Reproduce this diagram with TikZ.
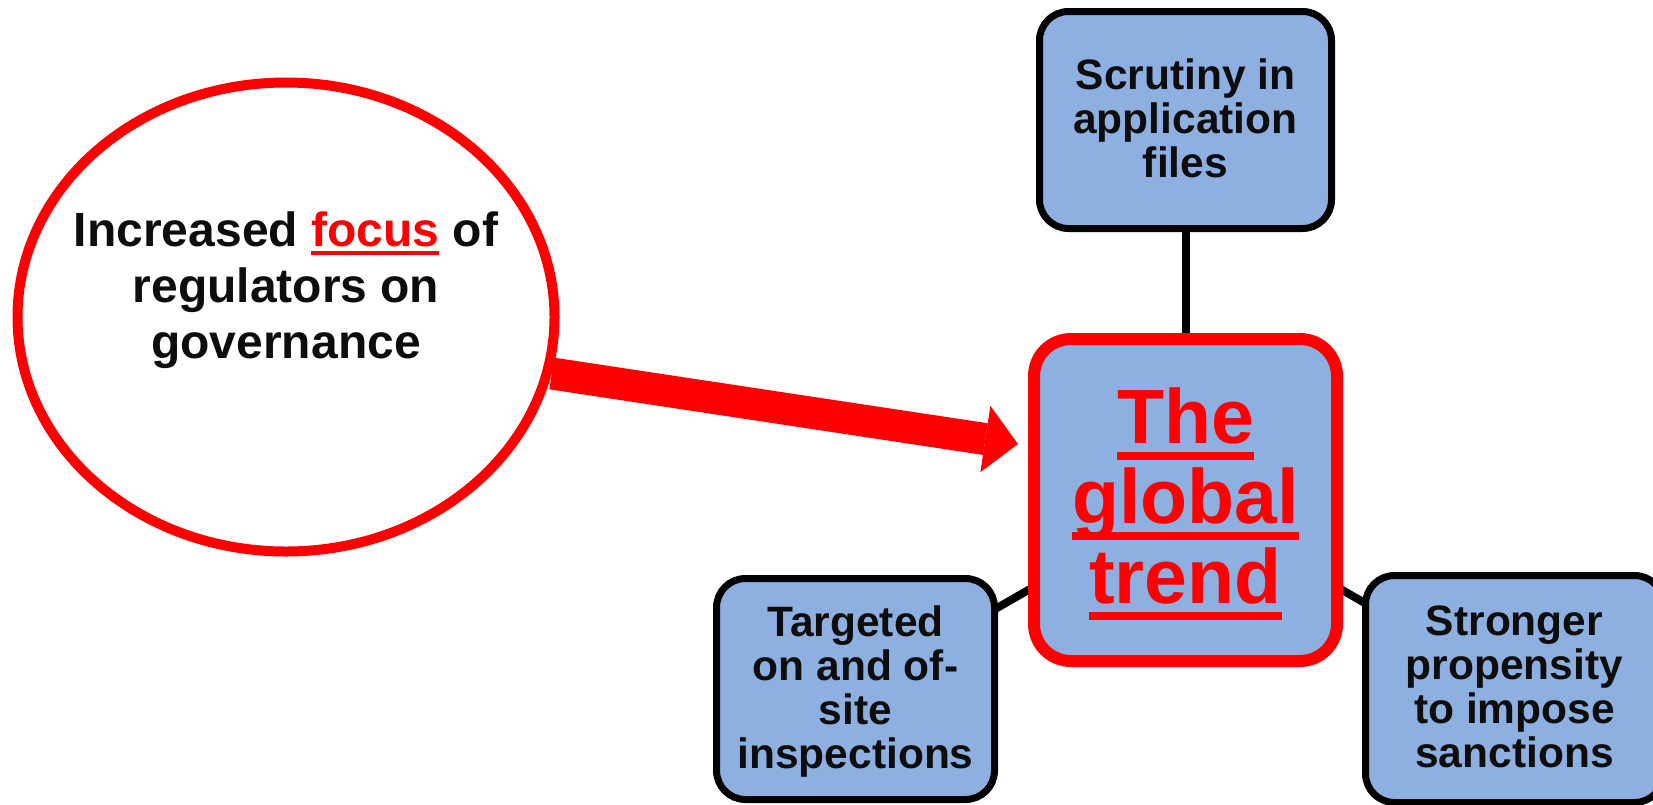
\documentclass[tikz,border=0pt]{standalone}
\usepackage{fontspec}
\setmainfont{Liberation Sans}
\usetikzlibrary{shapes.geometric,arrows.meta,calc,backgrounds}

\definecolor{boxblue}{RGB}{142,176,225}
\definecolor{inkblack}{RGB}{13,13,13}
\definecolor{alertred}{RGB}{255,0,0}

% underline at a fixed distance below the baseline: #1 gap, #2 thickness, #3 text
\newcommand\markunder[3]{\setbox0=\hbox{#3}\leavevmode\rlap{\vrule height -#1 depth \dimexpr #1+#2\relax width \wd0}\box0}

\tikzset{
  sidebox/.style={draw=black, line width=7pt, fill=boxblue, rounded corners=29pt,
    inner sep=0pt, outer sep=0pt},
  mainbox/.style={draw=alertred, line width=12pt, fill=boxblue, rounded corners=37pt,
    inner sep=0pt, outer sep=0pt},
  sidetext/.style={inner sep=0pt, align=center, text=inkblack,
    font=\fontsize{42.5}{44}\selectfont\bfseries},
  trendtext/.style={inner sep=0pt, align=center, text=alertred,
    font=\fontsize{77}{80}\selectfont\bfseries},
  focustext/.style={inner sep=0pt, align=center, text=inkblack,
    font=\fontsize{48}{56}\selectfont\bfseries},
  link/.style={draw=black, line width=8pt},
  bigarrow/.style={draw=alertred, line width=32pt,
    -{Triangle[length=33pt,width=67pt,line width=0pt]}},
}

\begin{document}
\begin{tikzpicture}[x=1pt,y=-1pt]
\useasboundingbox (0,0) rectangle (1653,804);

% oval on the left
\node[ellipse, draw=alertred, line width=10pt, fill=white, inner sep=0pt,
  minimum width=537pt, minimum height=469pt] (focus) at (286,317) {};
\node[focustext] (focuslabel) at (286,290)
  {Increased \textcolor{alertred}{\markunder{5pt}{4pt}{focus}} of\\regulators on\\governance};

% central box and the three satellites
\node[mainbox, minimum width=303pt, minimum height=322pt] (trend) at (1185.5,500) {};
\node[trendtext] (trendlabel) at (1185.5,504)
  {\markunder{8pt}{8pt}{The}\\\markunder{8pt}{8pt}{global}\\\markunder{8pt}{8pt}{trend}};

\node[sidebox, minimum width=292pt, minimum height=217pt] (scrutiny) at (1185.5,120) {};
\node[sidetext] (scrutinylabel) at (1185.5,118) {Scrutiny in\\application\\files};

\node[sidebox, minimum width=278pt, minimum height=221pt] (targeted) at (855.5,689) {};
\node[sidetext] (targetedlabel) at (855.5,691.5) {Targeted\\on and of-\\site\\inspections};

\node[sidebox, minimum width=298pt, minimum height=227pt] (stronger) at (1514.5,689) {};
\node[sidetext] (strongerlabel) at (1514.5,686.6) {Stronger\\propensity\\to impose\\sanctions};

% connectors behind the boxes
\begin{scope}[on background layer]
  \fill[white] (0,0) rectangle (1653,804);
  \draw[link] (trend.center) -- (scrutiny.center);
  \draw[link] (trend.center) -- (targeted.center);
  \draw[link] (trend.center) -- (stronger.center);
\end{scope}

% thick arrow from the oval towards the central box
\coordinate (arrowtip) at (1018,444);
\draw[bigarrow] (focus.-12) -- (arrowtip);
\end{tikzpicture}
\end{document}
